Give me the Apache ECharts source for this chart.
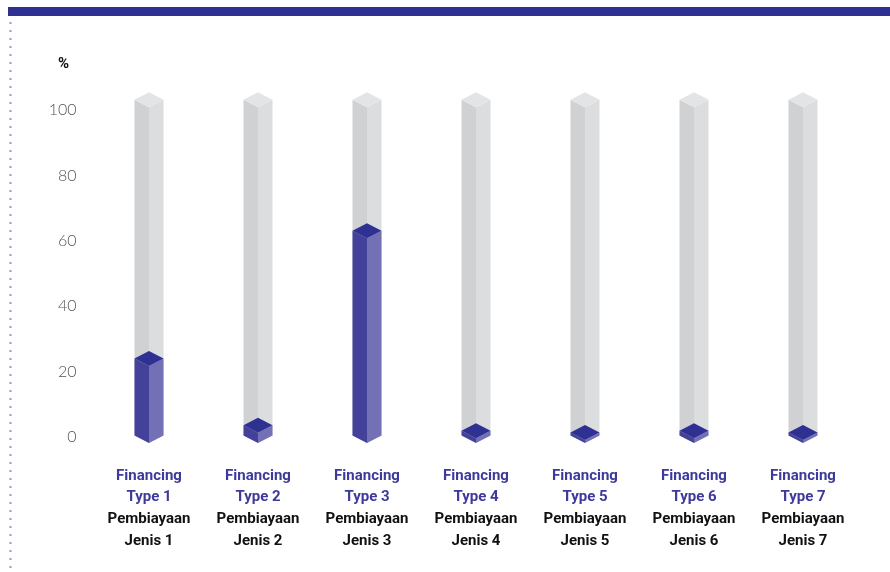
<!DOCTYPE html>
<html>
<head>
<meta charset="utf-8">
<script src="https://cdn.jsdelivr.net/npm/echarts@6/dist/echarts.min.js"></script>
<style>
  html, body { margin: 0; padding: 0; background: #fff; }
  #chart { width: 890px; height: 572px; }
</style>
</head>
<body>
<div id="chart"></div>
<script>
// data
const typeLabels = ['Financing\nType 1', 'Financing\nType 2', 'Financing\nType 3', 'Financing\nType 4', 'Financing\nType 5', 'Financing\nType 6', 'Financing\nType 7']
const jenisLabels = ['Pembiayaan\nJenis 1', 'Pembiayaan\nJenis 2', 'Pembiayaan\nJenis 3', 'Pembiayaan\nJenis 4', 'Pembiayaan\nJenis 5', 'Pembiayaan\nJenis 6', 'Pembiayaan\nJenis 7']
const shareValues = [22.5, 2.5, 60.7, 0.8, 0.3, 0.8, 0.3]
const trackValues = [100, 100, 100, 100, 100, 100, 100]
const yTicks = [0, 20, 40, 60, 80, 100]

const categories = typeLabels.map((t, i) => i)

const chart = echarts.init(document.getElementById('chart'))

// draws one isometric column; colors = [top, left, right]
function makeColumn(colors) {
  return function (params, api) {
    const x = api.value(0)
    const v = api.value(1)
    const c = api.coord([x, v])
    const c0 = api.coord([x, 0])
    const cx = c[0]
    const w = 14.5
    const d = 7.5
    const fy = c0[1] + 4 + (c[1] - c0[1]) * 1.021
    const by = c0[1] + 6
    return {
      type: 'group',
      children: [
        {
          type: 'polygon',
          shape: { points: [[cx - w, fy - d], [cx, fy], [cx, by], [cx - w, by - d]] },
          style: { fill: colors[1] }
        },
        {
          type: 'polygon',
          shape: { points: [[cx, fy], [cx + w, fy - d], [cx + w, by - d], [cx, by]] },
          style: { fill: colors[2] }
        },
        {
          type: 'polygon',
          shape: { points: [[cx - w, fy - d], [cx, fy - 2 * d], [cx + w, fy - d], [cx, fy]] },
          style: { fill: colors[0] }
        }
      ]
    }
  }
}

const option = {
  animation: false,
  backgroundColor: '#fff',
  grid: { left: 94.5, right: 32.5, top: 110, bottom: 135 },
  graphic: [
    { type: 'rect', shape: { x: 8, y: 7, width: 882, height: 9 }, style: { fill: '#2e3192' } },
    {
      type: 'line',
      shape: { x1: 10.5, y1: 22, x2: 10.5, y2: 572 },
      style: { stroke: '#9c99cf', lineWidth: 2, lineDash: [2, 6] }
    },
    {
      type: 'text', left: 58, top: 57,
      style: { text: '%', fill: '#111', font: 'bold 15px Roboto, sans-serif' }
    }
  ],
  xAxis: {
    type: 'category',
    data: categories,
    axisLine: { show: false },
    axisTick: { show: false },
    axisLabel: {
      margin: 28,
      interval: 0,
      formatter: (i) => '{a|' + typeLabels[i] + '}\n{b|' + jenisLabels[i] + '}',
      rich: {
        a: { color: '#3d3a9c', fontSize: 15, fontWeight: 'bold', fontFamily: 'Roboto, sans-serif', lineHeight: 21.7, align: 'center' },
        b: { color: '#111', fontSize: 15, fontWeight: 'bold', fontFamily: 'Roboto, sans-serif', lineHeight: 21.7, align: 'center' }
      }
    }
  },
  yAxis: {
    type: 'value',
    min: 0,
    max: 100,
    interval: 20,
    axisLine: { show: false },
    axisTick: { show: false },
    splitLine: { show: false },
    axisLabel: {
      margin: 18,
      color: '#555',
      fontSize: 16,
      fontWeight: 300,
      fontFamily: 'Lato, sans-serif',
      formatter: (val) => yTicks.includes(val) ? String(val) : ''
    }
  },
  series: [
    {
      type: 'custom',
      renderItem: makeColumn(['#e3e4e5', '#d0d1d3', '#dcdddf']),
      data: categories.map((c, i) => [c, trackValues[i]]),
      z: 1
    },
    {
      type: 'custom',
      renderItem: makeColumn(['#2e3192', '#44419b', '#7470b6']),
      data: categories.map((c, i) => [c, shareValues[i]]),
      z: 2
    }
  ]
}

chart.setOption(option)
</script>
</body>
</html>
